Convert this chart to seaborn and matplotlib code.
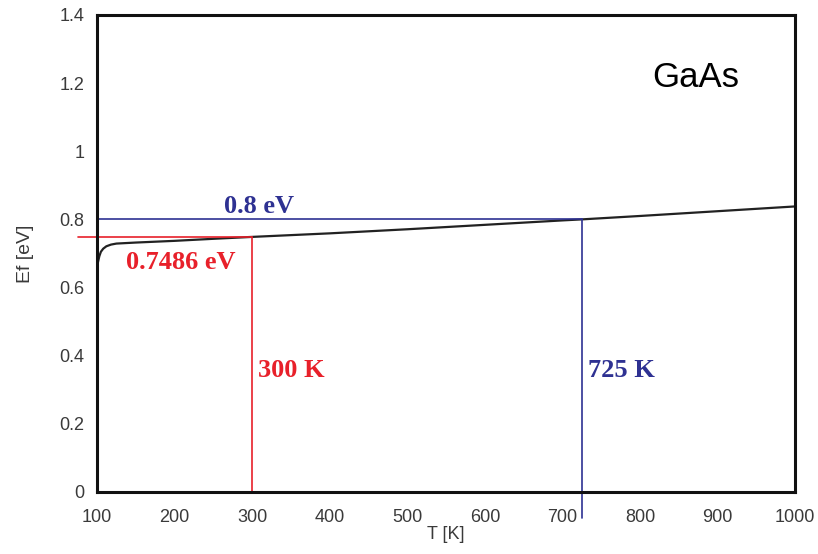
import pandas as pd
import matplotlib.pyplot as plt
import seaborn as sns

# Fermi level vs temperature for GaAs
temps = [100, 101, 103, 105, 108, 112, 118, 125, 150, 200, 250, 300, 400, 500, 600, 700, 725, 800, 900, 1000]
ef = [0.655, 0.672, 0.692, 0.705, 0.714, 0.721, 0.726, 0.729, 0.732, 0.737, 0.743, 0.7486,
      0.759, 0.771, 0.784, 0.797, 0.800, 0.810, 0.824, 0.838]

t_red, e_red = 300, 0.7486
t_blue, e_blue = 725, 0.8
x_ticks = [100, 200, 300, 400, 500, 600, 700, 800, 900, 1000]
y_ticks = [0, 0.2, 0.4, 0.6, 0.8, 1, 1.2, 1.4]
y_labels = ["0", "0.2", "0.4", "0.6", "0.8", "1", "1.2", "1.4"]

df = pd.DataFrame({"T": temps, "Ef": ef})

sns.set_style("white")
plt.rcParams["font.family"] = ["Liberation Sans", "DejaVu Sans"]

fig = plt.figure(figsize=(8.18, 5.54), dpi=100)
ax = fig.add_axes([0.1186, 0.112, 0.8534, 0.861])

sns.lineplot(data=df, x="T", y="Ef", color="#222222", linewidth=1.6, ax=ax)

red = "#e8202a"
blue = "#2e3192"
# red guide lines (horizontal one pokes out past the axis)
ax.plot([75, t_red], [e_red, e_red], color=red, lw=1.2, clip_on=False)
ax.plot([t_red, t_red], [0, e_red], color=red, lw=1.2)
# blue guide lines (vertical one pokes out below the axis)
ax.plot([100, t_blue], [e_blue, e_blue], color=blue, lw=1.2)
ax.plot([t_blue, t_blue], [-0.075, e_blue], color=blue, lw=1.2, clip_on=False)

serif = ["Liberation Serif", "DejaVu Serif"]
lab = dict(fontsize=19, fontweight="bold", family=serif, va="center")
ax.text(309, 0.838, "0.8 eV", color=blue, ha="center", **lab)
ax.text(208, 0.672, "0.7486 eV", color=red, ha="center", **lab)
ax.text(307, 0.355, "300 K", color=red, ha="left", **lab)
ax.text(733, 0.355, "725 K", color=blue, ha="left", **lab)
ax.text(872, 1.215, "GaAs", color="black", fontsize=25, ha="center", va="center")

ax.set_xlim(100, 1000)
ax.set_ylim(0, 1.4)
ax.set_xticks(x_ticks)
ax.set_yticks(y_ticks)
ax.set_yticklabels(y_labels)
ax.tick_params(direction="in", length=5, width=1, colors="#3a3a3a", labelsize=13)
ax.tick_params(axis="x", pad=12)
ax.tick_params(axis="y", pad=9)
ax.set_xlabel("T [K]", fontsize=13, color="#3a3a3a", labelpad=0)
ax.set_ylabel("Ef [eV]", fontsize=14, color="#3a3a3a", labelpad=18)
for s in ax.spines.values():
    s.set_linewidth(2.2)
    s.set_color("#111111")

fig.savefig("out.png", dpi=100)
